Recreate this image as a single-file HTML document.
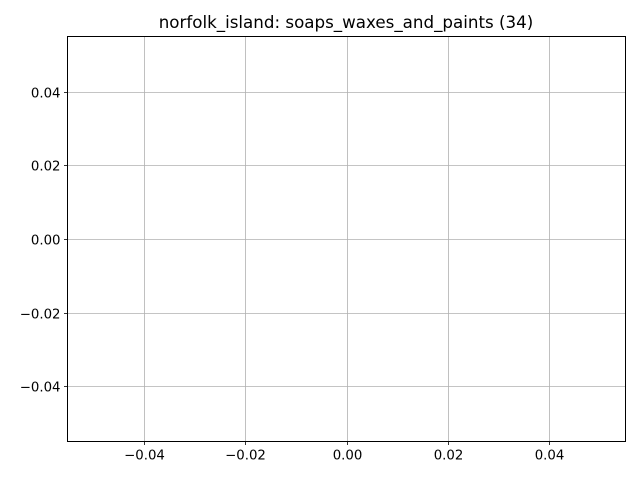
<!DOCTYPE html>
<html><head><meta charset="utf-8"><style>
body{margin:0;background:#fff;}
svg{display:block;font-family:"DejaVu Sans","Liberation Sans",sans-serif;}
</style></head><body>
<svg id="chart" width="640" height="480">
<rect width="640" height="480" fill="#fff"/>
<text x="346" y="28" text-anchor="middle" font-size="16.7" fill="#000">norfolk_island: soaps_waxes_and_paints (34)</text>
<g id="grid"></g>
<g id="xticks"></g>
<g id="yticks"></g>
<g id="series"></g>
<rect x="67.5" y="36.5" width="558" height="405" fill="none" stroke="#000" stroke-width="1"/>
</svg>
<script>
const xTicks=[-0.04,-0.02,0.00,0.02,0.04];
const xTickLabels=["−0.04","−0.02","0.00","0.02","0.04"];
const yTicks=[-0.04,-0.02,0.00,0.02,0.04];
const yTickLabels=["−0.04","−0.02","0.00","0.02","0.04"];
const seriesX=[];
const seriesY=[];
const xDomain=[-0.055,0.055], yDomain=[-0.055,0.055];
const L=67.5,R=625.5,T=36.5,B=441.5;
const sx=v=>L+(v-xDomain[0])/(xDomain[1]-xDomain[0])*(R-L);
const sy=v=>B-(v-yDomain[0])/(yDomain[1]-yDomain[0])*(B-T);
const NS="http://www.w3.org/2000/svg";
const mk=(t,a,p)=>{const e=document.createElementNS(NS,t);for(const k in a)e.setAttribute(k,a[k]);p.appendChild(e);return e;};
const grid=document.getElementById('grid'),gx=document.getElementById('xticks'),gy=document.getElementById('yticks'),gs=document.getElementById('series');
xTicks.forEach((v,i)=>{const x=Math.round(sx(v))+0.5;
 let g=mk('line',{x1:x,x2:x,y1:T,y2:B,stroke:'#b0b0b0','stroke-width':0.8},grid);
 
 
 let t=mk('line',{x1:x,x2:x,y1:B,y2:B+3.5,stroke:'#000','stroke-width':0.8},gx);
 
 
 let l=mk('text',{x:x,y:B+18,'text-anchor':'middle','font-size':13.3,fill:'#000'},gx);
 l.textContent=xTickLabels[i];
 
 
});
yTicks.forEach((v,i)=>{const y=Math.round(sy(v))+0.5;
 let g=mk('line',{x1:L,x2:R,y1:y,y2:y,stroke:'#b0b0b0','stroke-width':0.8},grid);
 
 
 let t=mk('line',{x1:L-3.5,x2:L,y1:y,y2:y,stroke:'#000','stroke-width':0.8},gy);
 
 
 let l=mk('text',{x:L-7,y:y+4.8,'text-anchor':'end','font-size':13.3,fill:'#000'},gy);
 l.textContent=yTickLabels[i];
 
 
});
if(seriesX.length){
 const p=mk('polyline',{points:seriesX.map((v,i)=>sx(v)+','+sy(seriesY[i])).join(' '),fill:'none',stroke:'#1f77b4','stroke-width':1.5},gs);
 
 
}
</script>
</body></html>
